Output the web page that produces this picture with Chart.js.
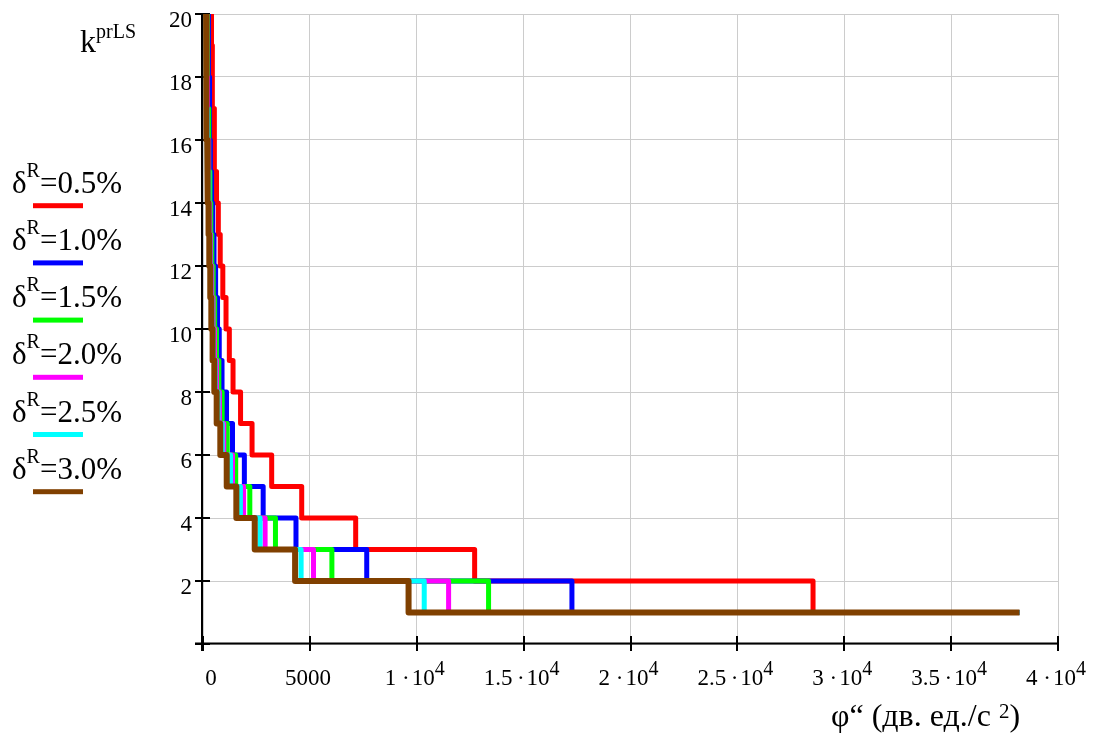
<!DOCTYPE html>
<html>
<head>
<meta charset="utf-8">
<script src="https://cdn.jsdelivr.net/npm/chart.js@4.4.1/dist/chart.umd.min.js"></script>
<style>
  html, body { margin: 0; padding: 0; background: #ffffff; }
  canvas { display: block; }
</style>
</head>
<body>
<canvas id="chart" width="1094" height="738"></canvas>
<script>
// Number of levels k (from 20 down to 1)
const kLevels = [20, 19, 18, 17, 16, 15, 14, 13, 12, 11, 10, 9, 8, 7, 6, 5, 4, 3, 2, 1];

// φ'' value at which each level k begins, one array per δR
const phiD05 = [375, 398, 422, 445, 515, 539, 632, 717, 806, 927, 1077, 1232, 1405, 1757, 2295, 3213, 4618, 7143, 12708, 28540];
const phiD10 = [235, 252, 266, 283, 318, 344, 402, 455, 515, 590, 680, 760, 890, 1100, 1380, 1935, 2815, 4350, 7660, 17260];
const phiD15 = [188, 202, 213, 227, 255, 276, 322, 364, 413, 476, 546, 630, 742, 896, 1134, 1530, 2190, 3390, 6030, 13360];
const phiD20 = [160, 172, 182, 194, 218, 236, 276, 312, 354, 408, 468, 540, 636, 768, 972, 1380, 1900, 2905, 5170, 11490];
const phiD25 = [145, 155, 164, 175, 196, 212, 248, 280, 318, 366, 420, 485, 575, 705, 900, 1290, 1750, 2670, 4590, 10350];
const phiD30 = [135, 144, 152, 162, 182, 197, 230, 260, 295, 340, 390, 450, 530, 640, 810, 1110, 1560, 2420, 4309, 9617];
const phiEnd = 38200;

const deltaLabels = ['0.5%', '1.0%', '1.5%', '2.0%', '2.5%', '3.0%'];
const seriesColors = ['#ff0000', '#0000ff', '#00ff00', '#ff00ff', '#00ffff', '#804000'];

const xTickValues = [0, 5000, 10000, 15000, 20000, 25000, 30000, 35000, 40000];
const xTickBase = ['0', '5000', '1 \u00b7\u200a10', '1.5\u2009\u00b7\u200a10', '2 \u00b7\u200a10',
                   '2.5\u2009\u00b7\u200a10', '3 \u00b7\u200a10', '3.5\u2009\u00b7\u200a10', '4 \u00b7\u200a10'];
const xTickPower = ['', '', '4', '4', '4', '4', '4', '4', '4'];
const yTickValues = [2, 4, 6, 8, 10, 12, 14, 16, 18, 20];

const SERIF = '"Liberation Serif", "Times New Roman", serif';

// Turn level start points into a staircase polyline
function staircase(phi) {
  const pts = [];
  for (let i = 0; i < phi.length; i++) {
    const nextX = i + 1 < phi.length ? phi[i + 1] : phiEnd;
    pts.push({ x: phi[i], y: kLevels[i] });
    pts.push({ x: nextX, y: kLevels[i] });
  }
  return pts;
}

const seriesData = [phiD05, phiD10, phiD15, phiD20, phiD25, phiD30];
const datasets = seriesData.map((phi, i) => ({
  label: 'δR=' + deltaLabels[i],
  data: staircase(phi),
  borderColor: seriesColors[i],
  backgroundColor: seriesColors[i],
  borderWidth: i === 5 ? 6 : 5,
  borderJoinStyle: 'round',
  borderCapStyle: 'butt',
  pointRadius: 0,
  tension: 0,
  fill: false,
  order: seriesData.length - i
}));

function drawSup(ctx, x, y, base, sup, baseFont, supFont, rise) {
  ctx.font = baseFont;
  ctx.fillText(base, x, y);
  const w = ctx.measureText(base).width;
  ctx.font = supFont;
  ctx.fillText(sup, x + w, y - rise);
  return x + w + ctx.measureText(sup).width;
}

const framePlugin = {
  id: 'frame',
  beforeDatasetsDraw(chart) {
    const { ctx, chartArea: a, scales: { x, y } } = chart;
    ctx.save();
    ctx.strokeStyle = '#000';
    ctx.lineWidth = 2;
    ctx.beginPath();
    // axes
    ctx.moveTo(a.left - 1, a.top - 1);
    ctx.lineTo(a.left - 1, a.bottom + 7);
    ctx.moveTo(a.left - 8, a.bottom - 0.5);
    ctx.lineTo(a.right, a.bottom - 0.5);
    // tick marks crossing the axes
    [0].concat(yTickValues).forEach(v => {
      const py = Math.round(y.getPixelForValue(v));
      ctx.moveTo(a.left - 8, py);
      ctx.lineTo(a.left + 7, py);
    });
    xTickValues.forEach(v => {
      const px = Math.round(x.getPixelForValue(v));
      ctx.moveTo(px, a.bottom - 8);
      ctx.lineTo(px, a.bottom + 7);
    });
    ctx.stroke();
    ctx.restore();
  },
  afterDraw(chart) {
    const { ctx, chartArea: a, scales: { x } } = chart;
    ctx.save();
    ctx.fillStyle = '#000';
    ctx.textBaseline = 'alphabetic';
    ctx.textAlign = 'left';

    // x tick labels with exponents
    const baseFont = '23px ' + SERIF;
    const supFont = '20px ' + SERIF;
    xTickValues.forEach((v, i) => {
      ctx.font = baseFont;
      const wb = ctx.measureText(xTickBase[i]).width;
      ctx.font = supFont;
      const ws = xTickPower[i] ? ctx.measureText(xTickPower[i]).width : 0;
      const px = x.getPixelForValue(v);
      const shift = v === 0 ? 8 : -2;
      drawSup(ctx, px - (wb + ws) / 2 + shift, a.bottom + 41, xTickBase[i], xTickPower[i], baseFont, supFont, 10);
    });

    // x axis title
    const tFont = '32px ' + SERIF;
    let tx = drawSup(ctx, 831, 726, '\u03c6\u201c (дв. ед./с ', '2', tFont, '21px ' + SERIF, 8);
    ctx.font = tFont;
    ctx.fillText(')', tx, 726);

    // y axis title
    drawSup(ctx, 80, 52, 'k', 'prLS', '32px ' + SERIF, '20px ' + SERIF, 14);

    // legend
    deltaLabels.forEach((lab, i) => {
      const b = 192.7 + 57.2 * i;
      let lx = drawSup(ctx, 12, b, '\u03b4', 'R', '31px ' + SERIF, '20px ' + SERIF, 16);
      ctx.font = '31px ' + SERIF;
      ctx.fillText('=' + lab, lx, b);
      ctx.fillStyle = seriesColors[i];
      ctx.fillRect(33, b + 10.5, 50, 5);
      ctx.fillStyle = '#000';
    });
    ctx.restore();
  }
};

new Chart(document.getElementById('chart'), {
  type: 'line',
  data: { datasets },
  plugins: [framePlugin],
  options: {
    responsive: false,
    animation: false,
    devicePixelRatio: 1,
    layout: { padding: { left: 0, top: 14, right: 36, bottom: 0 } },
    plugins: { legend: { display: false }, tooltip: { enabled: false } },
    elements: { point: { radius: 0 } },
    scales: {
      x: {
        type: 'linear', min: 0, max: 40000,
        ticks: { stepSize: 5000, display: false },
        grid: { color: '#cccccc', lineWidth: 1, drawTicks: false },
        border: { display: false },
        afterFit(s) { s.height = 94; s.paddingLeft = 0; s.paddingRight = 0; }
      },
      y: {
        type: 'linear', min: 0, max: 20,
        ticks: {
          stepSize: 2, padding: 11, labelOffset: 7, color: '#000',
          font: { family: SERIF, size: 23 },
          callback: v => (yTickValues.includes(v) ? String(v) : '')
        },
        grid: { color: '#cccccc', lineWidth: 1, drawTicks: false },
        border: { display: false },
        afterFit(s) { s.width = 203; s.paddingTop = 0; s.paddingBottom = 0; }
      }
    }
  }
});
</script>
</body>
</html>
